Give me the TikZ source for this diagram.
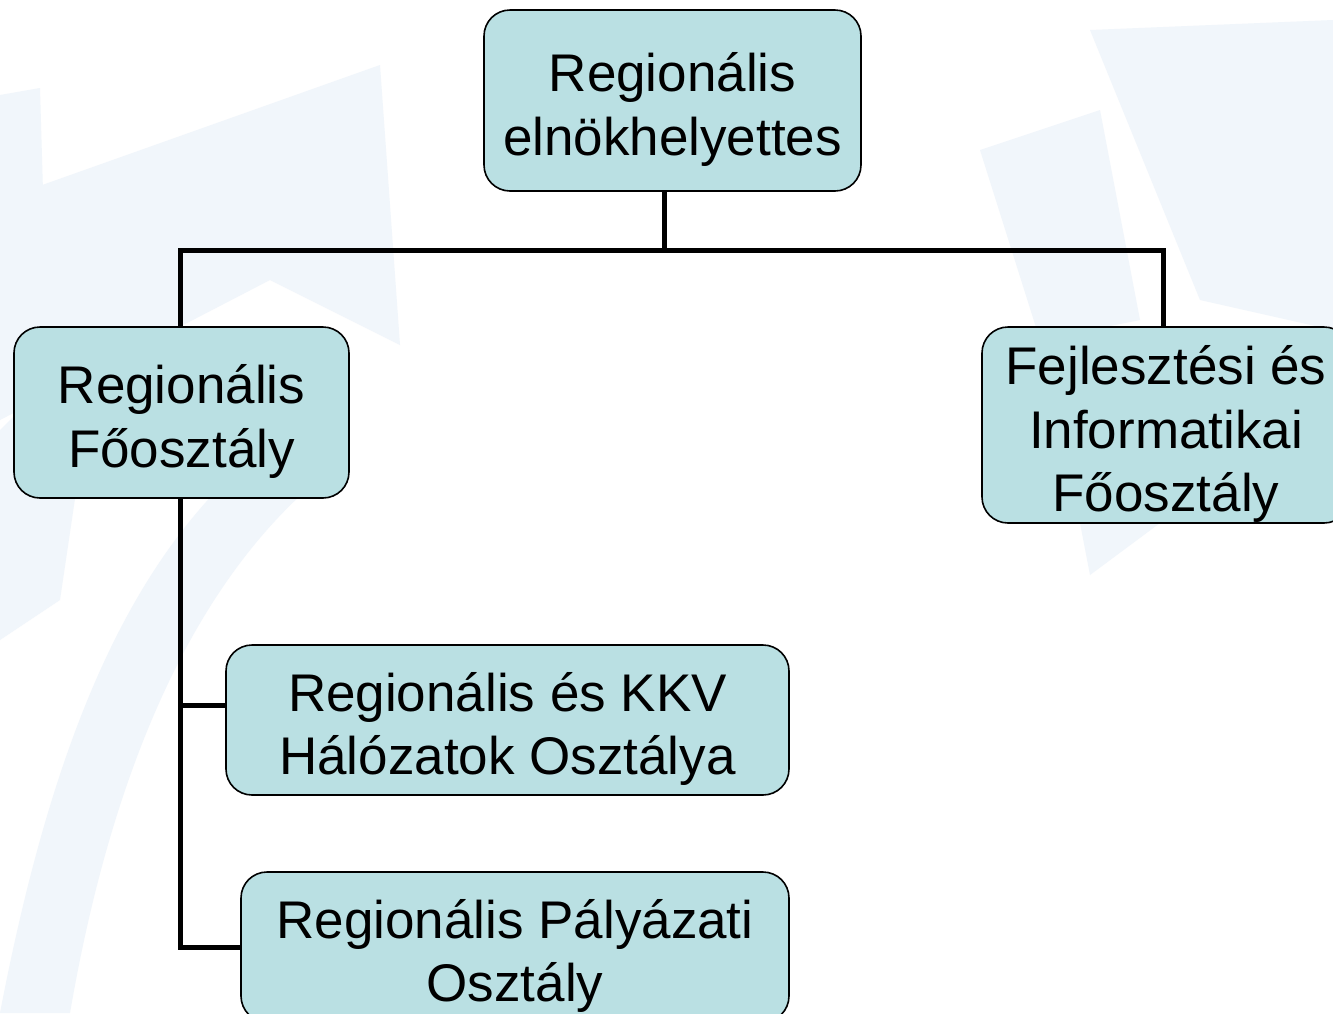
\documentclass[tikz,border=0pt]{standalone}
\usepackage{fontspec}
\setmainfont{Liberation Sans}
\usetikzlibrary{calc}
\definecolor{boxfill}{RGB}{186,224,227}
\definecolor{wm}{RGB}{241,246,251}
\newcommand{\topfix}{\rule{0pt}{57pt}}
\begin{document}
\begin{tikzpicture}[x=1pt,y=1pt,
  orgbox/.style={draw=black, line width=1.6pt, fill=boxfill, rounded corners=26pt,
    align=center, inner sep=0pt, font=\fontsize{53}{63.5}\selectfont},
  conn/.style={draw=black, line width=5pt}]
\useasboundingbox (0,0) rectangle (1333,-1013);
\clip (0,0) rectangle (1333,-1013);
\fill[white] (0,0) rectangle (1333,-1013);
% faint watermark shapes
\fill[wm] (0,-200) -- (380,-65) -- (400,-345) -- (270,-280) -- (0,-420) -- cycle;
\fill[wm] (0,-95) -- (40,-88) -- (45,-260) -- (0,-270) -- cycle;
\fill[wm] (0,-430) -- (100,-330) -- (60,-600) -- (0,-640) -- cycle;
\fill[wm] (0,-1013) .. controls (60,-700) and (150,-520) .. (300,-420) -- (330,-470) .. controls (190,-580) and (110,-780) .. (70,-1013) -- cycle;
\fill[wm] (1090,-30) -- (1333,-20) -- (1333,-330) -- (1200,-300) -- cycle;
\fill[wm] (980,-150) -- (1100,-110) -- (1140,-320) -- (1040,-340) -- cycle;
\fill[wm] (1080,-523) -- (1160,-523) -- (1090,-575) -- cycle;
% boxes
\node[orgbox, minimum width=377pt, minimum height=181pt] (top) at (672.5,-100.5) {\topfix Regionális\\elnökhelyettes};
\node[orgbox, minimum width=335pt, minimum height=171pt] (left) at (181.5,-412.5) {\topfix Regionális\\Főosztály};
\node[orgbox, minimum width=368pt, minimum height=196pt] (right) at (1166,-425) {\topfix Fejlesztési és\\Informatikai\\Főosztály};
\node[orgbox, minimum width=563pt, minimum height=150pt] (kkv) at (507.5,-720) {\topfix Regionális és KKV\\Hálózatok Osztálya};
\node[orgbox, minimum width=548pt, minimum height=150pt] (pal) at (515,-947) {\topfix Regionális Pályázati\\Osztály};
% connectors
\coordinate (hl) at (180,-250);
\coordinate (hm) at (664,-250);
\coordinate (hr) at (1163,-250);
\draw[conn] (top.south -| hm) -- (hm);
\draw[conn] (left.north -| hl) -- (hl) -- (hr) -- (right.north -| hr);
\coordinate (kb) at ($(kkv.west)+(0,15)$);
\draw[conn] (left.south -| hl) |- (pal.west);
\draw[conn] (hl |- kb) -- (kb);
\end{tikzpicture}
\end{document}
